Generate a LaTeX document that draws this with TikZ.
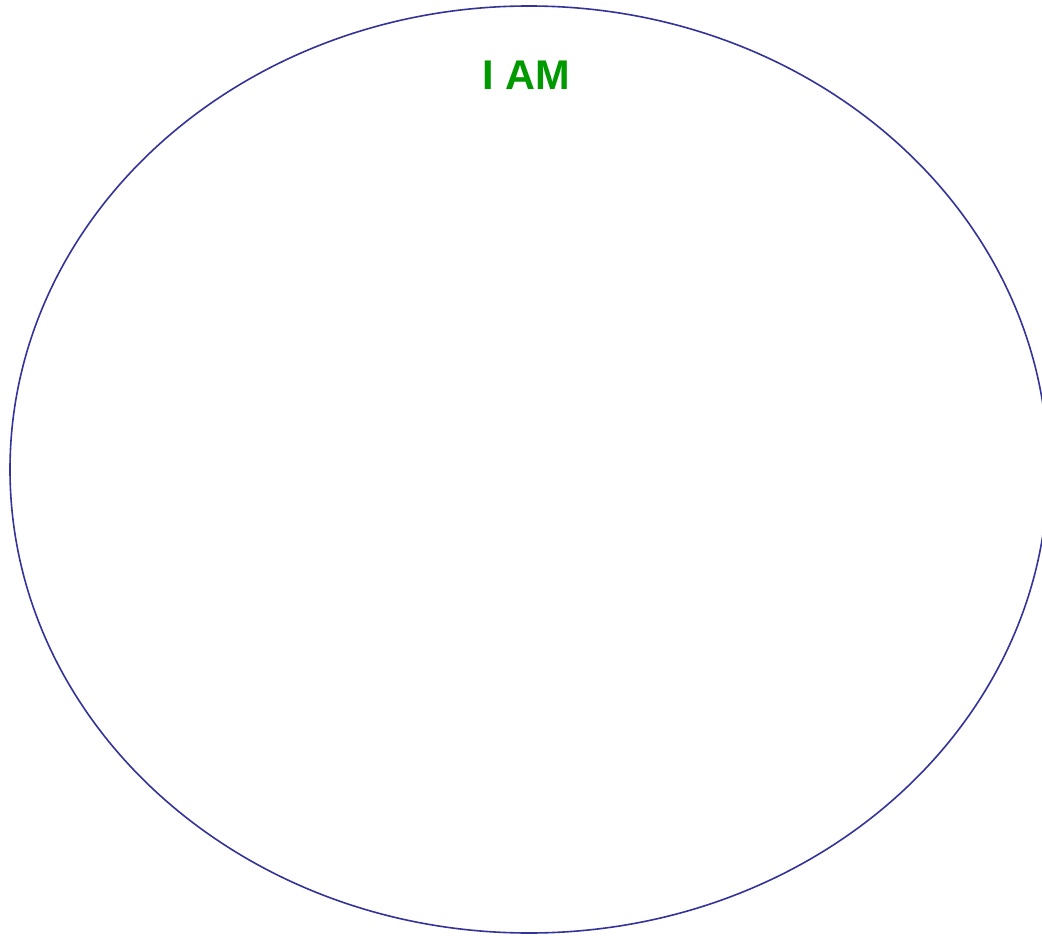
\documentclass[tikz,border=0pt]{standalone}
\usepackage{fontspec}
\setmainfont{Liberation Sans}
\usetikzlibrary{shapes.geometric}
\definecolor{ringblue}{HTML}{333399}
\definecolor{labelgreen}{HTML}{009900}
\tikzset{
  ring/.style={draw=ringblue, line width=1.6pt},
  title/.style={text=labelgreen, font=\fontsize{41.5}{48}\selectfont\bfseries, inner sep=0pt}
}
\begin{document}
\begin{tikzpicture}[x=1pt,y=-1pt]
\useasboundingbox (0,0) rectangle (1042,936);
\clip (0,0) rectangle (1042,936);
\fill[white] (0,0) rectangle (1042,936);
\node[ring, ellipse, minimum width=1038pt, minimum height=927pt, inner sep=0pt, outer sep=0pt] (self) at (529,469.5) {};
\node[title] (iam) at (526.5,75) {I AM};
\end{tikzpicture}
\end{document}
